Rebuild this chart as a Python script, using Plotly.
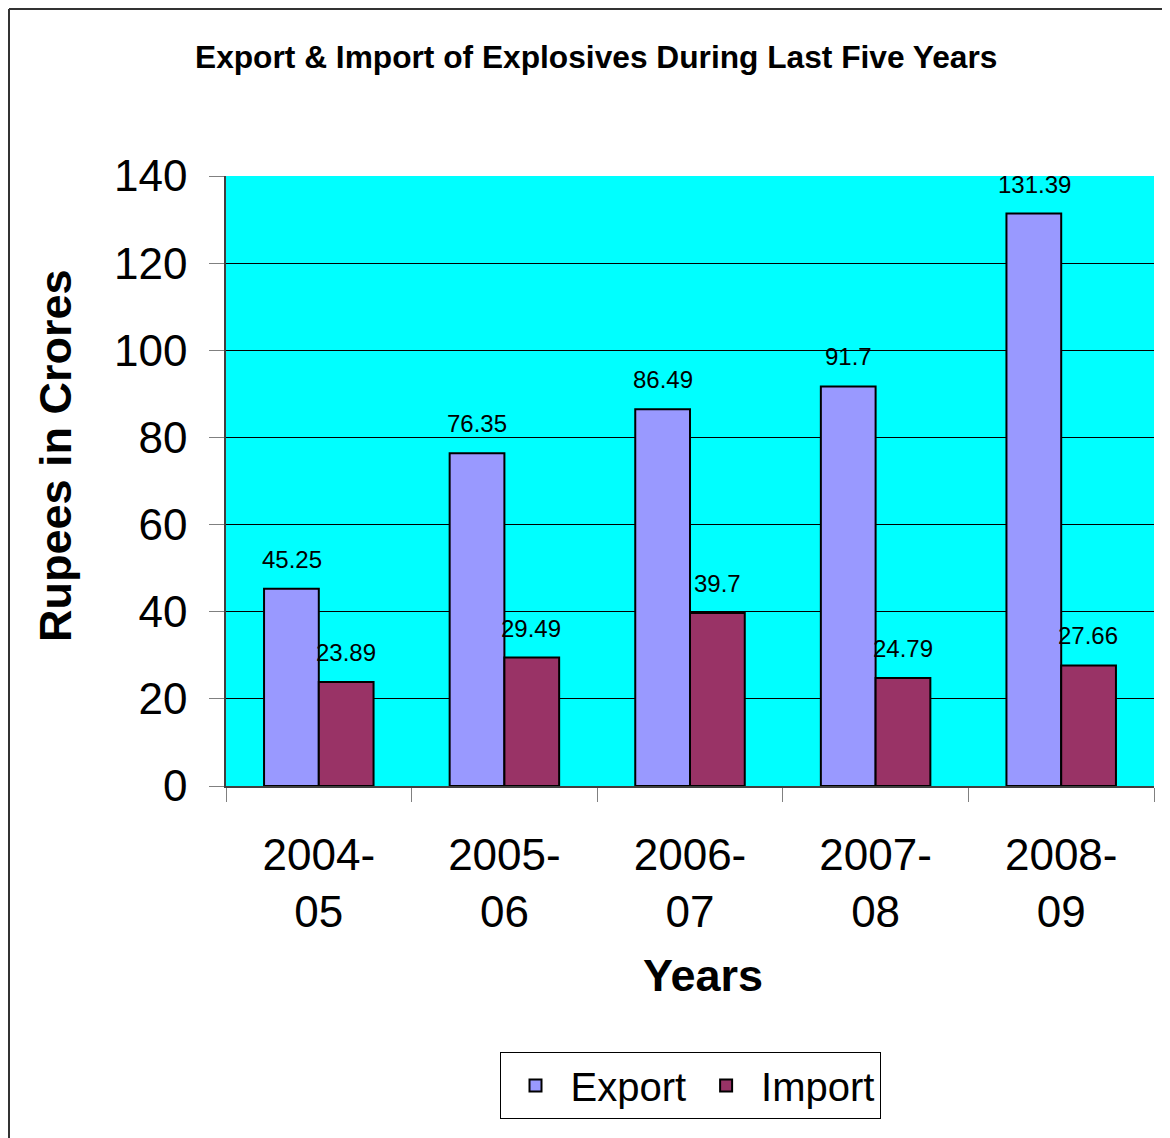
import plotly.graph_objects as go

categories = ["2004-<br>05", "2005-<br>06", "2006-<br>07", "2007-<br>08", "2008-<br>09"]
export_vals = [45.25, 76.35, 86.49, 91.7, 131.39]
import_vals = [23.89, 29.49, 39.7, 24.79, 27.66]
y_ticks = [0, 20, 40, 60, 80, 100, 120, 140]

FONT = "Arial, Liberation Sans, sans-serif"
OFF = 8  # page body margin
W, H = 1170 - OFF, 1138 - OFF
L, R, T, B = 226 - OFF, 16, 176 - OFF, 352
PW, PH = W - L - R, H - T - B


def px(x):
    # page x pixel -> paper fraction
    return (x - OFF - L) / PW


def py(y):
    # page y pixel -> paper fraction
    return (H - B - (y - OFF)) / PH


fig = go.Figure()
fig.add_trace(go.Bar(name="Export", x=categories, y=export_vals,
                     marker=dict(color="#9999FF", line=dict(color="black", width=2))))
fig.add_trace(go.Bar(name="Import", x=categories, y=import_vals,
                     marker=dict(color="#993366", line=dict(color="black", width=2))))

annotations = []
for c, v in zip(categories, export_vals):
    annotations.append(dict(x=c, y=v, xref="x", yref="y", text=str(v), showarrow=False,
                            xshift=-27, yshift=14, yanchor="bottom",
                            font=dict(family=FONT, size=24, color="black")))
for c, v in zip(categories, import_vals):
    annotations.append(dict(x=c, y=v, xref="x", yref="y", text=str(v), showarrow=False,
                            xshift=27, yshift=14, yanchor="bottom",
                            font=dict(family=FONT, size=24, color="black")))

annotations.append(dict(x=px(55), y=py(456), xref="paper", yref="paper", text="<b>Rupees in Crores</b>",
                        textangle=-90, showarrow=False, xanchor="center", yanchor="middle",
                        font=dict(family=FONT, size=45, color="black")))
annotations.append(dict(x=px(703), y=py(975), xref="paper", yref="paper", text="<b>Years</b>",
                        showarrow=False, xanchor="center", yanchor="middle",
                        font=dict(family=FONT, size=45, color="black")))
annotations.append(dict(x=px(596), y=py(57), xref="paper", yref="paper",
                        text="<b>Export & Import of Explosives During Last Five Years</b>",
                        showarrow=False, xanchor="center", yanchor="middle",
                        font=dict(family=FONT, size=31.7, color="black")))

shapes = [
    dict(type="line", xref="paper", yref="paper", x0=px(9), x1=px(9), y0=py(9), y1=py(1200),
         line=dict(color="#333333", width=2)),
    dict(type="line", xref="paper", yref="paper", x0=px(9), x1=px(1220), y0=py(9), y1=py(9),
         line=dict(color="#333333", width=2)),
]

fig.update_layout(
    width=W, height=H,
    margin=dict(l=L, r=R, t=T, b=B),
    paper_bgcolor="white",
    plot_bgcolor="#00FFFF",
    barmode="group",
    bargap=0.41,
    bargroupgap=0,
    font=dict(family=FONT, color="black"),
    showlegend=True,
    legend=dict(orientation="h", x=px(690), y=py(1052), xanchor="center", yanchor="top",
                bordercolor="black", borderwidth=1, bgcolor="white",
                font=dict(family=FONT, size=40, color="black"), itemwidth=60),
    annotations=annotations,
    shapes=shapes,
)
fig.update_xaxes(showline=True, linecolor="#404040", linewidth=1.5,
                 ticks="outside", ticklen=14, tickcolor="#808080", tickson="boundaries",
                 tickfont=dict(family=FONT, size=44, color="black"), ticklabelstandoff=29,
                 showgrid=False)
fig.update_yaxes(range=[0, 140], tickvals=y_ticks, showline=True, linecolor="#404040", linewidth=1.5,
                 ticks="outside", ticklen=15, tickcolor="#808080",
                 tickfont=dict(family=FONT, size=44, color="black"), ticklabelstandoff=13,
                 showgrid=True, gridcolor="black", gridwidth=1, zeroline=False)

fig.write_html("out.html")
